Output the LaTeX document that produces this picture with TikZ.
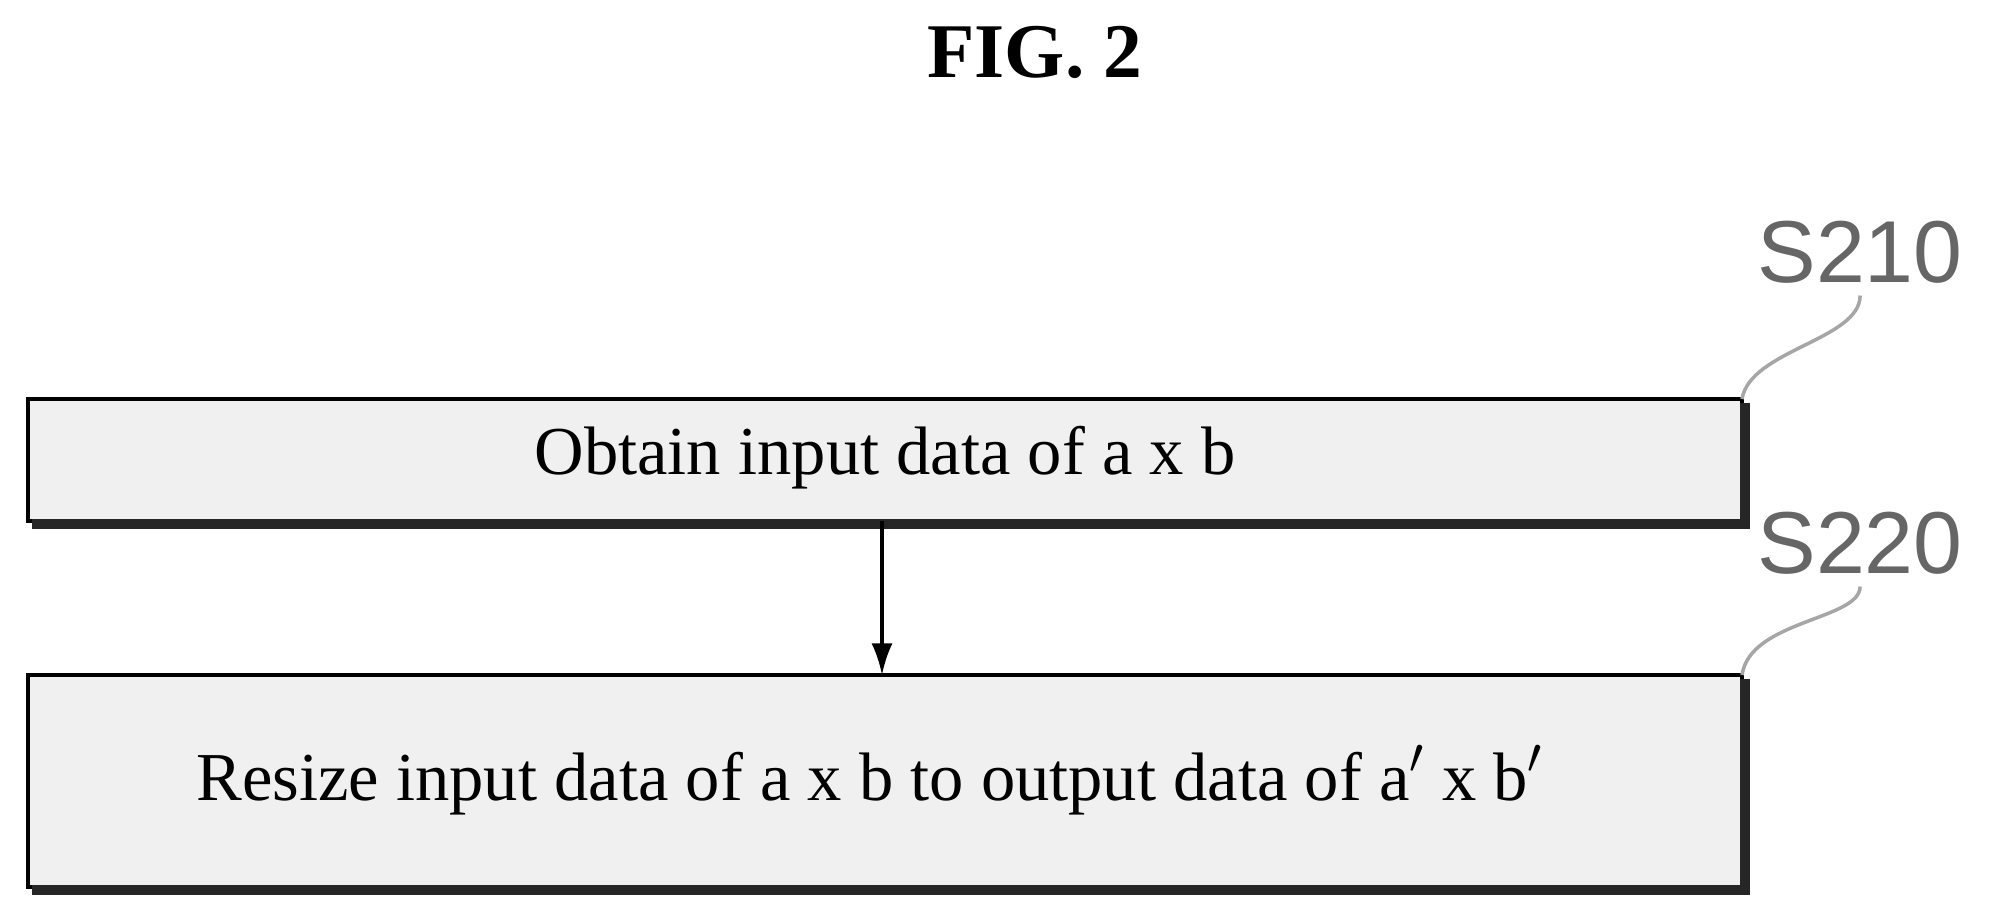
\documentclass[tikz,border=0pt]{standalone}
\usepackage{fontspec}
\setmainfont{Liberation Serif}
\newfontfamily\labelfont{Liberation Sans}
\usetikzlibrary{arrows.meta,positioning}

\begin{document}
\begin{tikzpicture}[
  x=0.01cm,y=-0.01cm,
  stepbox/.style={draw,line width=1.2pt,fill=gray!12},
  shade/.style={line width=3pt,black!85},
  steptext/.style={font=\fontsize{19.5}{22}\selectfont},
  tag/.style={font=\labelfont\fontsize{25}{28}\selectfont,text=gray!80!black},
  lead/.style={gray!70,line width=1pt},
  flow/.style={-{Latex[length=9pt,width=6pt]},line width=1pt}
]
  \useasboundingbox (0,0) rectangle (2016,913);

  % Title
  \node[font=\bfseries\fontsize{22}{24}\selectfont] (title) at (1035,52) {FIG. 2};

  % Steps
  \path (28,399) coordinate (a1) (1742,521) coordinate (b1)
        (28,675) coordinate (a2) (1742,887) coordinate (b2);
  \draw[stepbox] (a1) rectangle (b1);
  \draw[stepbox] (a2) rectangle (b2);
  \draw[shade] (1745,403) -- (1745,524) -- (32,524);
  \draw[shade] (1745,679) -- (1745,890) -- (32,890);
  \node[steptext] (t1) at (885,458) {Obtain input data of a x b};
  \node[steptext] (t2) at (870,780)
    {Resize input data of a x b to output data of a$'$ x b$'$};

  % Arrow
  \coordinate (top1) at (882,521);
  \coordinate (top2) at (882,675);
  \draw[flow] (top1) -- (top2);

  % Reference labels
  \node[tag,anchor=west] (l210) at (1745,252) {S210};
  \node[tag,anchor=west] (l220) at (1745,543) {S220};
  \coordinate (c1) at (1742,399);
  \coordinate (c2) at (1742,675);
  \draw[lead] (c1) .. controls (1750,350) and (1860,340) .. (l210.south);
  \draw[lead] (c2) .. controls (1750,620) and (1860,620) .. (l220.south);
\end{tikzpicture}
\end{document}
